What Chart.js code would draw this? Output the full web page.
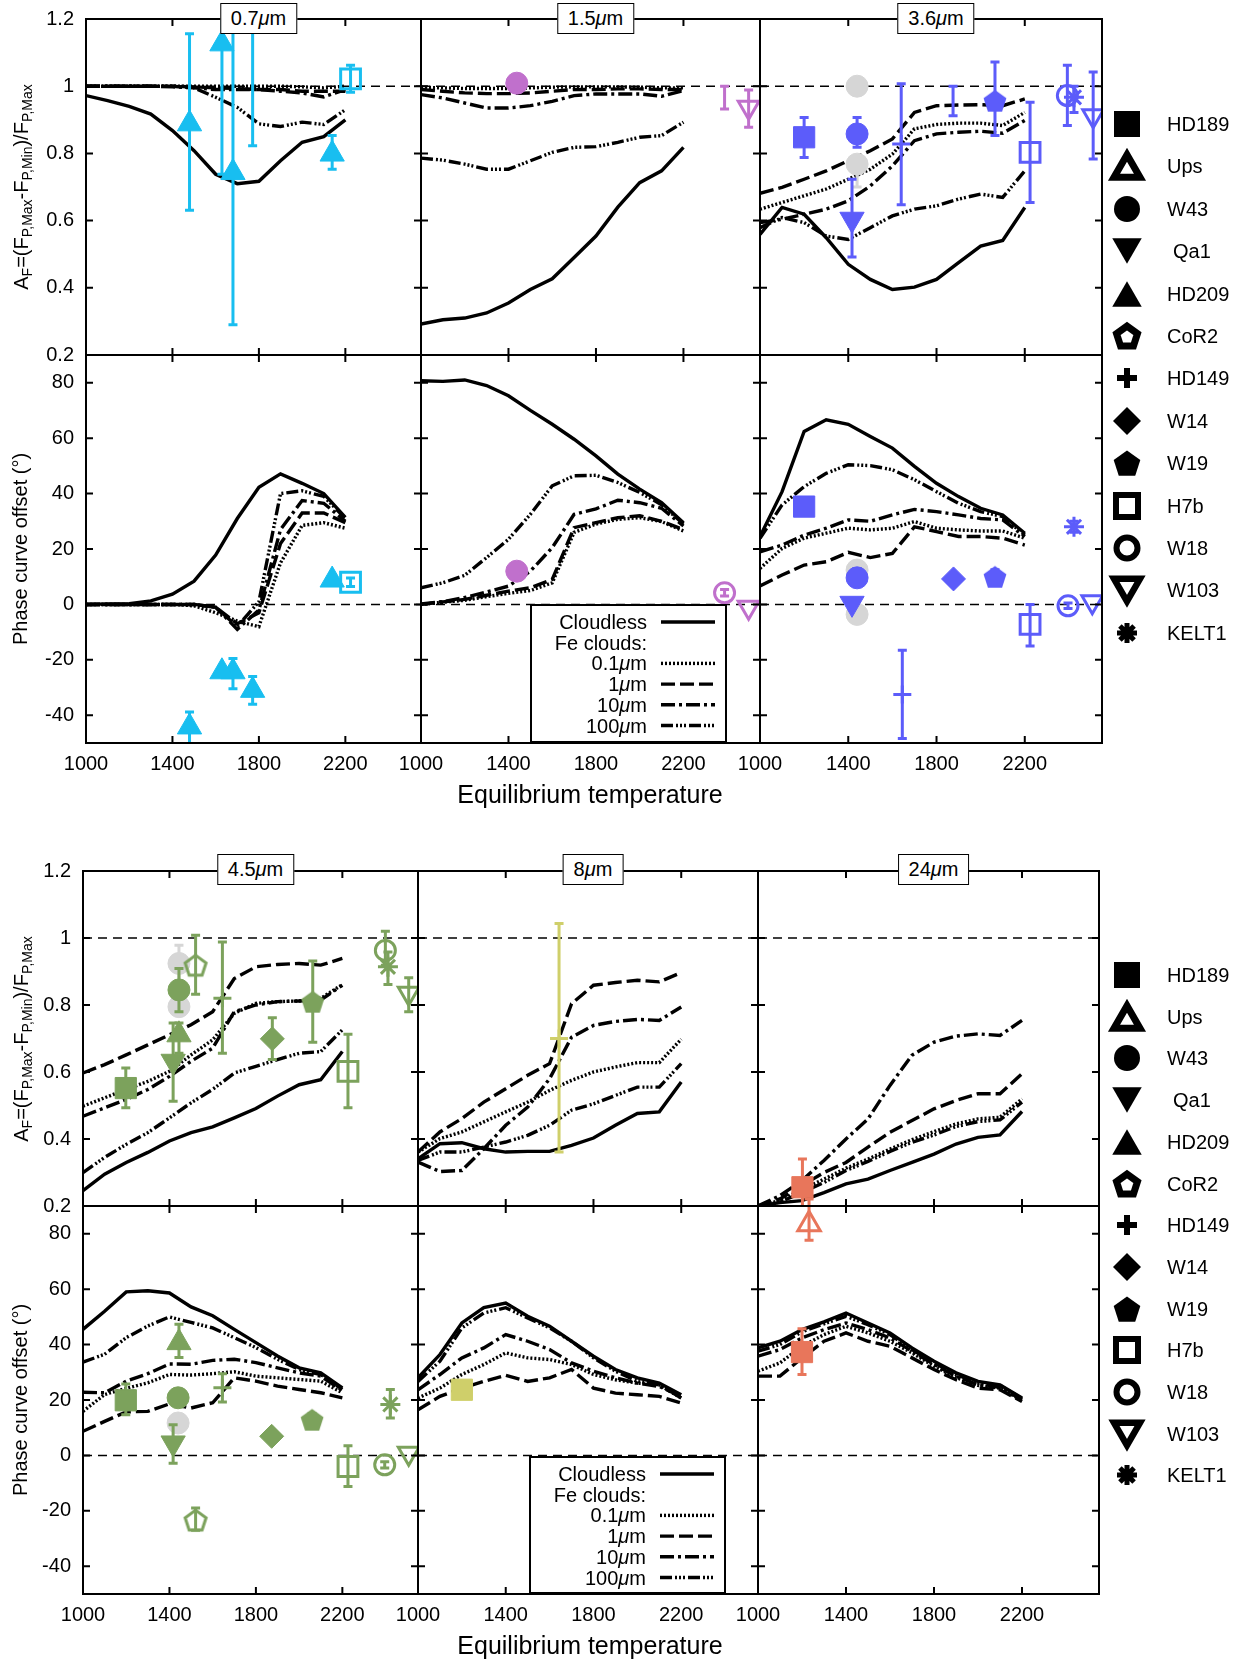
<!DOCTYPE html>
<html>
<head>
<meta charset="utf-8">
<script src="https://cdn.jsdelivr.net/npm/chart.js@4.4.1/dist/chart.umd.min.js"></script>
<style>
  body { margin: 0; background: #fff; }
  #page { position: relative; width: 1250px; height: 1662px; overflow: hidden; font-family: "Liberation Sans", Arial, sans-serif; color: #000; }
  canvas.panel { position: absolute; }
  .tbox { position: absolute; height: 31px; box-sizing: border-box; border: 1.5px solid #000; background: #fff; font-size: 20px; line-height: 28px; padding: 0 10px; transform: translateX(-50%); white-space: nowrap; z-index: 5; }
  .ytitle { position: absolute; font-size: 20px; white-space: nowrap; transform: translate(-50%, -50%) rotate(-90deg); z-index: 5; }
  .ytitle sub { font-size: 14px; vertical-align: -4px; }
  .xtitle { position: absolute; font-size: 25px; white-space: nowrap; transform: translate(-50%, -50%); z-index: 5; }
  .mbox { position: absolute; box-sizing: border-box; border: 2px solid #000; background: #fff; z-index: 5; }
  .mbox div { position: absolute; font-size: 20px; text-align: right; width: 115px; left: 0; line-height: 22px; }
  .mbox canvas { position: absolute; left: 0; top: 0; }
  .leg { position: absolute; font-size: 20px; line-height: 24px; z-index: 5; }
  .legm { position: absolute; z-index: 5; }
</style>
</head>
<body>
<div id="page"></div>
<script>
// model grid temperatures
const modelT = [1000, 1100, 1200, 1300, 1400, 1500, 1600, 1700, 1800, 1900, 2000, 2100, 2200];

// model curves: amplitude A_F and phase offset, for cloudless and Fe clouds 0.1/1/10/100 um
const cl07A   = [0.972, 0.957, 0.94, 0.917, 0.868, 0.808, 0.738, 0.71, 0.717, 0.778, 0.833, 0.85, 0.9];
const f01_07A = [1, 1, 1, 1, 1, 1, 1, 1, 1, 1, 0.998, 0.995, 1.0];
const f1_07A  = [1, 1, 1, 1, 1, 0.998, 0.995, 0.993, 0.99, 0.99, 0.985, 0.985, 0.985];
const f10_07A = [1, 1, 1, 1, 0.998, 0.995, 0.99, 0.99, 0.99, 0.985, 0.98, 0.968, 0.99];
const f100_07A = [1, 1, 1, 1, 1, 0.995, 0.967, 0.937, 0.888, 0.88, 0.893, 0.886, 0.93];

const cl07O   = [0, 0.2, 0.3, 1.3, 3.7, 8.4, 17.8, 31, 42.3, 47.1, 43.7, 40, 31.4];
const f01_07O = [0, 0, 0, 0, 0, -0.5, -3, -6, -8, 15, 28.5, 29.5, 27.5];
const f1_07O  = [0, 0, 0, 0, 0, 0, -1, -7, -3, 22, 33, 33, 29.5];
const f10_07O = [0, 0, 0, 0, 0, 0, -1, -9, -2, 27, 37.5, 36.5, 30];
const f100_07O = [0, 0, 0, 0, 0, 0, -1, -8, 1, 40, 41, 39, 31];

const cl15A   = [0.292, 0.305, 0.31, 0.325, 0.355, 0.395, 0.427, 0.49, 0.554, 0.64, 0.713, 0.748, 0.818];
const f01_15A = [0.997, 0.995, 0.993, 0.993, 0.993, 0.995, 0.997, 0.998, 0.998, 0.998, 0.997, 0.995, 0.995];
const f1_15A  = [0.99, 0.985, 0.98, 0.978, 0.978, 0.98, 0.985, 0.99, 0.99, 0.992, 0.992, 0.99, 0.99];
const f10_15A = [0.975, 0.965, 0.95, 0.935, 0.935, 0.942, 0.955, 0.972, 0.977, 0.977, 0.977, 0.97, 0.987];
const f100_15A = [0.786, 0.78, 0.768, 0.753, 0.753, 0.778, 0.803, 0.818, 0.82, 0.833, 0.848, 0.853, 0.893];

const cl15O   = [80.7, 80.5, 81, 79, 75.3, 70, 65, 59.6, 53.6, 47, 41.6, 36.7, 29.5];
const f01_15O = [0, 0.8, 1.5, 2.8, 4, 5, 7.8, 26, 29, 30.7, 31.3, 29.9, 26.5];
const f1_15O  = [0, 0.9, 1.8, 3.3, 4.8, 6, 9, 27.7, 29.5, 31.3, 32, 30, 27];
const f10_15O = [0.2, 1, 2.5, 4.5, 6.6, 12, 20.5, 32.5, 34.5, 37.6, 36.7, 34.7, 28.3];
const f100_15O = [6, 7.8, 10.5, 16.9, 23.5, 32.5, 42.8, 46.4, 46.6, 44, 40.4, 36, 29];

const cl36A   = [0.559, 0.639, 0.619, 0.549, 0.47, 0.425, 0.395, 0.402, 0.425, 0.475, 0.524, 0.541, 0.639];
const f01_36A = [0.634, 0.654, 0.674, 0.694, 0.723, 0.753, 0.798, 0.873, 0.886, 0.89, 0.89, 0.883, 0.922];
const f1_36A  = [0.681, 0.699, 0.723, 0.748, 0.778, 0.808, 0.843, 0.922, 0.942, 0.944, 0.945, 0.942, 0.962];
const f10_36A = [0.594, 0.604, 0.619, 0.634, 0.659, 0.703, 0.763, 0.838, 0.858, 0.863, 0.866, 0.86, 0.898];
const f100_36A = [0.579, 0.609, 0.594, 0.554, 0.544, 0.579, 0.614, 0.634, 0.644, 0.664, 0.679, 0.669, 0.748];

const cl36O   = [24.5, 40.7, 62.4, 66.6, 65, 60.6, 56.4, 49.8, 43.7, 38.9, 34.7, 32.3, 25.7];
const f01_36O = [13, 20.2, 23.9, 25.7, 27.5, 26.9, 27.5, 29.9, 27.5, 26.9, 26.5, 26.5, 23.9];
const f1_36O  = [6.7, 10.6, 14.2, 15.4, 18.8, 16.9, 18.4, 28, 26.3, 24.5, 24.5, 23.9, 21.4];
const f10_36O = [19, 21.4, 25, 27.5, 30.5, 30, 32.3, 34.3, 33.5, 32.3, 31, 30.5, 24.5];
const f100_36O = [23.9, 35.9, 42.5, 47.3, 50.4, 50.1, 48.6, 45, 40.7, 36.5, 33.5, 31.7, 25];

const cl45A   = [0.246, 0.295, 0.33, 0.36, 0.394, 0.419, 0.436, 0.463, 0.491, 0.528, 0.562, 0.577, 0.661];
const f01_45A = [0.498, 0.523, 0.548, 0.572, 0.602, 0.651, 0.696, 0.775, 0.805, 0.81, 0.812, 0.82, 0.861];
const f1_45A  = [0.597, 0.622, 0.651, 0.681, 0.711, 0.741, 0.78, 0.879, 0.914, 0.921, 0.924, 0.919, 0.939];
const f10_45A = [0.468, 0.493, 0.518, 0.548, 0.587, 0.632, 0.671, 0.78, 0.8, 0.81, 0.812, 0.815, 0.859];
const f100_45A = [0.3, 0.345, 0.384, 0.419, 0.463, 0.508, 0.548, 0.597, 0.617, 0.637, 0.656, 0.661, 0.726];

const cl45O   = [45.5, 52, 59, 59.4, 58.6, 53.6, 50.4, 45.5, 40.7, 35.9, 31.6, 29.8, 24.4];
const f01_45O = [15.9, 22, 24.2, 26.2, 29.2, 29, 29.5, 30.2, 28.6, 28, 27.4, 26.8, 22.6];
const f1_45O  = [8.7, 12.3, 15.7, 15.9, 18.6, 17.1, 19, 28, 26.8, 25, 23.8, 22.6, 20.8];
const f10_45O = [22.8, 22.6, 26.8, 29.5, 33, 32.9, 34.3, 34.7, 33.5, 31.6, 29.8, 28.6, 23.4];
const f100_45O = [33.7, 36.5, 42.5, 46.7, 50, 48, 46, 42.5, 38.9, 34.7, 31, 29.2, 23.8];

const cl8A    = [0.341, 0.386, 0.389, 0.371, 0.361, 0.363, 0.363, 0.381, 0.403, 0.441, 0.476, 0.481, 0.57];
const f01_8A  = [0.361, 0.401, 0.421, 0.451, 0.481, 0.51, 0.545, 0.575, 0.6, 0.615, 0.628, 0.628, 0.698];
const f1_8A   = [0.361, 0.421, 0.461, 0.51, 0.55, 0.59, 0.625, 0.804, 0.859, 0.867, 0.874, 0.869, 0.897];
const f10_8A  = [0.331, 0.303, 0.306, 0.371, 0.441, 0.495, 0.58, 0.704, 0.739, 0.751, 0.757, 0.754, 0.794];
const f100_8A = [0.336, 0.361, 0.361, 0.376, 0.391, 0.411, 0.441, 0.486, 0.505, 0.53, 0.555, 0.555, 0.625];

const cl8O    = [28, 36.4, 47.8, 53.3, 55, 50.2, 46.6, 41.2, 35.8, 31, 28, 26.1, 21.9];
const f01_8O  = [20.7, 24.3, 29.2, 32.8, 37, 35.2, 34.6, 32.8, 29.2, 27.3, 26.1, 25.5, 20.7];
const f1_8O   = [16.5, 21.3, 24.3, 26.7, 28.9, 26.7, 28, 31, 24.3, 22.5, 21.9, 21.3, 18.9];
const f10_8O  = [23.7, 29.2, 35.2, 38.8, 43.6, 41.2, 38.2, 33.4, 30.4, 28, 26.1, 24.9, 21.3];
const f100_8O = [26.7, 34, 46, 51.4, 53.3, 49.6, 46, 41.2, 35.2, 30.4, 26.7, 25.5, 20.7];

const cl24A    = [0.2, 0.21, 0.216, 0.24, 0.266, 0.28, 0.306, 0.33, 0.355, 0.385, 0.405, 0.412, 0.482];
const f01_24A  = [0.2, 0.216, 0.25, 0.28, 0.313, 0.34, 0.37, 0.398, 0.422, 0.445, 0.46, 0.465, 0.52];
const f1_24A   = [0.2, 0.221, 0.261, 0.3, 0.33, 0.376, 0.42, 0.455, 0.49, 0.515, 0.535, 0.535, 0.595];
const f10_24A  = [0.2, 0.231, 0.276, 0.336, 0.4, 0.46, 0.56, 0.65, 0.689, 0.707, 0.714, 0.709, 0.754];
const f100_24A = [0.2, 0.212, 0.24, 0.27, 0.306, 0.333, 0.363, 0.39, 0.412, 0.437, 0.452, 0.457, 0.51];

const cl24O    = [38.8, 41.2, 45.4, 48.2, 51.4, 47.8, 44.2, 38.8, 34, 29.8, 26.7, 25.5, 20.7];
const f01_24O  = [30.4, 33.4, 39.4, 43.6, 46.6, 44.2, 41.2, 37, 32.2, 28.1, 25.3, 24.3, 19.8];
const f1_24O   = [28.6, 28.6, 35.2, 41.2, 44.2, 41.2, 39.4, 35.2, 31, 27.3, 24.3, 23.7, 19.5];
const f10_24O  = [35.8, 38.2, 42.4, 45.4, 47.8, 45.4, 42.4, 37.6, 32.8, 28.6, 25.5, 24.6, 20.1];
const f100_24O = [37.6, 40, 44.6, 47.5, 50.2, 47.2, 43.6, 38.2, 33.4, 29.2, 26.1, 25.3, 20.5];

// observations: [planet, Teq, value, errLow, errHigh]
const obs07A = [
  ['HD209', 1479, 0.888, 0.631, 1.156],
  ['HD209', 1629, 1.126, 0.738, 1.3],
  ['HD209', 1680, 0.743, 0.29, 1.3],
  ['HD209', 1771, 1.19, 0.823, 1.3],
  ['HD209', 2139, 0.798, 0.753, 0.853],
  ['H7b', 2224, 1.022, 0.982, 1.062]
];
const obs07O = [
  ['HD209', 1479, -44.2, -52, -38.8],
  ['HD209', 1629, -24.3, null, null],
  ['HD209', 1680, -24.3, -30.4, -19.5],
  ['HD209', 1771, -31, -36, -26],
  ['HD209', 2139, 8.8, null, null],
  ['H7b', 2224, 8, 6.5, 9.5]
];
const obs15A = [
  ['W43', 1438, 1.009, null, null],
  ['bar', 2388, 0.967, 0.932, 1.0],
  ['W103', 2498, 0.937, 0.878, 0.989]
];
const obs15O = [
  ['W43', 1438, 12, null, null],
  ['W18', 2388, 4.2, 3, 5.4],
  ['W103', 2498, -1, null, null]
];
const obs36A = [
  ['W43g', 1440, 1.0, null, null],
  ['W43g', 1440, 0.768, 0.7, 0.77],
  ['HD189', 1200, 0.848, 0.788, 0.907],
  ['W43', 1440, 0.858, 0.818, 0.907],
  ['Qa1', 1417, 0.604, 0.492, 0.723],
  ['HD149', 1640, 0.828, 0.647, 1.007],
  ['bar', 1875, 0.957, 0.912, 1.0],
  ['W19', 2065, 0.957, 0.853, 1.072],
  ['H7b', 2224, 0.803, 0.654, 0.952],
  ['W18', 2393, 0.972, 0.883, 1.062],
  ['KELT1', 2423, 0.967, 0.922, 1.0],
  ['W103', 2510, 0.912, 0.783, 1.042]
];
const obs36O = [
  ['W43g', 1440, 12.4, null, null],
  ['W43g', 1440, -3.6, null, null],
  ['HD189', 1200, 35.3, 33.5, 37],
  ['W43', 1440, 9.6, 7, 13],
  ['Qa1', 1417, 0.4, null, null],
  ['HD149', 1645, -32.5, -48.4, -16.5],
  ['W14', 1877, 9.2, null, null],
  ['W19', 2065, 10, 8, 12.5],
  ['H7b', 2224, -7.2, -15, 0],
  ['W18', 2396, -0.5, -1.5, 0.5],
  ['KELT1', 2423, 28, 26, 30],
  ['W103', 2506, 1, null, null]
];
const obs45A = [
  ['W43g', 1444, 0.924, 0.87, 0.978],
  ['W43g', 1444, 0.795, null, null],
  ['HD189', 1198, 0.552, 0.493, 0.612],
  ['W43', 1444, 0.845, 0.78, 0.909],
  ['HD209', 1444, 0.711, 0.656, 0.746],
  ['Qa1', 1417, 0.632, 0.513, 0.746],
  ['CoR2', 1521, 0.919, 0.832, 1.008],
  ['HD149', 1645, 0.82, 0.656, 0.988],
  ['W14', 1876, 0.699, 0.637, 0.762],
  ['W19', 2063, 0.81, 0.689, 0.931],
  ['H7b', 2226, 0.602, 0.493, 0.713],
  ['W18', 2399, 0.963, 0.919, 1.02],
  ['KELT1', 2411, 0.914, 0.861, 0.958],
  ['W103', 2507, 0.835, 0.78, 0.881]
];
const obs45O = [
  ['W43g', 1440, 11.7, null, null],
  ['HD189', 1198, 19.9, 14.7, 25.8],
  ['W43', 1440, 20.8, null, null],
  ['HD209', 1444, 40.7, 35.3, 47.3],
  ['Qa1', 1417, 4.5, -2.8, 11.1],
  ['CoR2', 1521, -23.3, -27, -19],
  ['HD149', 1645, 24.4, 19.3, 29.5],
  ['W14', 1873, 6.9, null, null],
  ['W19', 2060, 12.9, 11, 15],
  ['H7b', 2226, -4, -11.2, 3.5],
  ['W18', 2396, -3.4, -4.5, -2.3],
  ['KELT1', 2422, 18.4, 13.5, 23.8],
  ['W103', 2507, 0.8, null, null]
];
const obs8A = [['HD149', 1643, 0.7, 0.361, 1.043]];
const obs8O = [['HD189', 1200, 23.7, null, null]];
const obs24A = [
  ['HD189', 1202, 0.256, 0.15, 0.34],
  ['Ups', 1232, 0.1, 0.05, 0.221]
];
const obs24O = [
  ['HD189', 1200, 37.3, 29.2, 45.7],
  ['Ups', 1232, 83.4, 77.6, 95]
];

const xTicks = [1000, 1400, 1800, 2200];
const ampTicks = [0.2, 0.4, 0.6, 0.8, 1, 1.2];
const offTicks = [-40, -20, 0, 20, 40, 60, 80];
const bands = ['0.7', '1.5', '3.6', '4.5', '8', '24'];
const legendNames = ['HD189', 'Ups', 'W43', 'Qa1', 'HD209', 'CoR2', 'HD149', 'W14', 'W19', 'H7b', 'W18', 'W103', 'KELT1'];
const modelNames = ['Cloudless', '0.1', '1', '10', '100'];

const modelsA = {
  '0.7': [cl07A, f01_07A, f1_07A, f10_07A, f100_07A],
  '1.5': [cl15A, f01_15A, f1_15A, f10_15A, f100_15A],
  '3.6': [cl36A, f01_36A, f1_36A, f10_36A, f100_36A],
  '4.5': [cl45A, f01_45A, f1_45A, f10_45A, f100_45A],
  '8': [cl8A, f01_8A, f1_8A, f10_8A, f100_8A],
  '24': [cl24A, f01_24A, f1_24A, f10_24A, f100_24A]
};
const modelsO = {
  '0.7': [cl07O, f01_07O, f1_07O, f10_07O, f100_07O],
  '1.5': [cl15O, f01_15O, f1_15O, f10_15O, f100_15O],
  '3.6': [cl36O, f01_36O, f1_36O, f10_36O, f100_36O],
  '4.5': [cl45O, f01_45O, f1_45O, f10_45O, f100_45O],
  '8': [cl8O, f01_8O, f1_8O, f10_8O, f100_8O],
  '24': [cl24O, f01_24O, f1_24O, f10_24O, f100_24O]
};
const obsA = { '0.7': obs07A, '1.5': obs15A, '3.6': obs36A, '4.5': obs45A, '8': obs8A, '24': obs24A };
const obsO = { '0.7': obs07O, '1.5': obs15O, '3.6': obs36O, '4.5': obs45O, '8': obs8O, '24': obs24O };

// styles
const FONT = '"Liberation Sans", Arial, sans-serif';
const bandColor = { '0.7': '#18BEF0', '1.5': '#C070CC', '3.6': '#5C5CFA', '4.5': '#7CA25C', '8': '#CFCF6A', '24': '#E8765B' };
const grey = '#D6D6D6';
const dashes = [[], [2, 2], [14, 5], [14, 4, 3, 4], [12, 3, 2, 2, 2, 2, 2, 3]];
const markerDefs = {
  HD189: { style: 'rect', r: 15 },
  Ups: { style: 'triangle', r: 13, open: true },
  W43: { style: 'circle', r: 11 },
  W43g: { style: 'circle', r: 11, grey: true },
  Qa1: { style: 'triangle', r: 14, rot: 180 },
  HD209: { style: 'triangle', r: 14 },
  CoR2: { style: 'pentagon', r: 11, open: true },
  HD149: { style: 'cross', r: 9 },
  W14: { style: 'rectRot', r: 12 },
  W19: { style: 'pentagon', r: 12 },
  H7b: { style: 'rect', r: 14, open: true },
  W18: { style: 'circle', r: 10, open: true },
  W103: { style: 'triangle', r: 12, rot: 180, open: true },
  KELT1: { style: 'star', r: 10 },
  bar: { style: 'circle', r: 0 }
};

function drawShape(g, shape, x, y, r, color, filled, lw) {
  g.save();
  g.fillStyle = color; g.strokeStyle = color; g.lineWidth = lw;
  g.beginPath();
  if (shape === 'square') {
    g.rect(x - r, y - r, 2 * r, 2 * r);
  } else if (shape === 'circle') {
    g.arc(x, y, r, 0, Math.PI * 2);
  } else if (shape === 'triangle' || shape === 'dtriangle' || shape === 'pentagon') {
    const n = shape === 'pentagon' ? 5 : 3;
    const start = shape === 'dtriangle' ? Math.PI / 2 : -Math.PI / 2;
    const dy = shape === 'triangle' ? r / 4 : shape === 'dtriangle' ? -r / 4 : r * 0.1;
    for (let k = 0; k < n; k++) {
      const th = start + k * 2 * Math.PI / n;
      const px = x + r * Math.cos(th), py = y + dy + r * Math.sin(th);
      if (k === 0) g.moveTo(px, py); else g.lineTo(px, py);
    }
    g.closePath();
  } else if (shape === 'diamond') {
    g.moveTo(x, y - r); g.lineTo(x + r, y); g.lineTo(x, y + r); g.lineTo(x - r, y); g.closePath();
  } else if (shape === 'plus') {
    g.rect(x - r, y - lw / 2, 2 * r, lw); g.rect(x - lw / 2, y - r, lw, 2 * r);
    g.fill(); g.restore(); return;
  } else if (shape === 'star') {
    for (let k = 0; k < 4; k++) {
      const th = k * Math.PI / 4;
      g.moveTo(x - r * Math.cos(th), y - r * Math.sin(th));
      g.lineTo(x + r * Math.cos(th), y + r * Math.sin(th));
    }
    g.stroke(); g.restore(); return;
  }
  if (filled) g.fill(); else g.stroke();
  g.restore();
}

function pentagonImage(color, r, filled) {
  const s = Math.ceil(2 * r + 8);
  const c = document.createElement('canvas');
  c.width = s; c.height = s;
  drawShape(c.getContext('2d'), 'pentagon', s / 2, s / 2, r, color, filled, 3);
  return c;
}

function obsDataset(row, color) {
  const [name, t, v, lo, hi] = row;
  const m = markerDefs[name];
  const c = m.grey ? grey : color;
  let ps = m.style;
  if (ps === 'pentagon') ps = pentagonImage(c, m.r, !m.open);
  const thick = m.open || m.style === 'cross' || m.style === 'star';
  return {
    label: name,
    data: [{ x: t, y: v }],
    showLine: false,
    order: m.grey ? 1 : 0,
    pointStyle: ps,
    pointRadius: m.r,
    pointHoverRadius: m.r,
    pointRotation: m.rot || 0,
    pointBackgroundColor: m.open ? 'rgba(0,0,0,0)' : c,
    pointBorderColor: c,
    pointBorderWidth: thick ? 3 : 1,
    errLo: lo, errHi: hi, barColor: c
  };
}

function modelDataset(vals, k) {
  return {
    label: modelNames[k],
    data: modelT.map((t, i) => ({ x: t, y: vals[i] })),
    showLine: true,
    pointRadius: 0,
    borderColor: '#000',
    borderWidth: 3.4,
    borderDash: dashes[k],
    borderCapStyle: 'butt',
    tension: 0,
    order: 2
  };
}

// dashed reference line, frame and inward ticks
const framePlugin = {
  id: 'frame',
  beforeDatasetsDraw(chart, args, opts) {
    const { ctx, chartArea: a, scales: { y } } = chart;
    const ry = y.getPixelForValue(opts.refY);
    ctx.save();
    ctx.strokeStyle = '#000'; ctx.lineWidth = 1.5; ctx.setLineDash([9, 6]);
    ctx.beginPath(); ctx.moveTo(a.left, ry); ctx.lineTo(a.right, ry); ctx.stroke();
    ctx.restore();
  },
  afterDraw(chart) {
    const { ctx, chartArea: a, scales: { x, y } } = chart;
    ctx.save();
    ctx.strokeStyle = '#000'; ctx.lineWidth = 2; ctx.setLineDash([]);
    ctx.strokeRect(a.left, a.top, a.right - a.left, a.bottom - a.top);
    ctx.beginPath();
    x.ticks.forEach(t => {
      const px = x.getPixelForValue(t.value);
      ctx.moveTo(px, a.bottom); ctx.lineTo(px, a.bottom - 7);
      ctx.moveTo(px, a.top); ctx.lineTo(px, a.top + 7);
    });
    y.ticks.forEach(t => {
      const py = y.getPixelForValue(t.value);
      ctx.moveTo(a.left, py); ctx.lineTo(a.left + 7, py);
      ctx.moveTo(a.right, py); ctx.lineTo(a.right - 7, py);
    });
    ctx.stroke();
    ctx.restore();
  }
};

// error bars, drawn just before their own marker
const errPlugin = {
  id: 'errbars',
  beforeDatasetDraw(chart, args) {
    const ds = chart.data.datasets[args.index];
    if (ds.errLo == null) return;
    const { ctx, chartArea: a, scales: { y } } = chart;
    const pt = args.meta.data[0];
    const y1 = y.getPixelForValue(ds.errLo), y2 = y.getPixelForValue(ds.errHi);
    ctx.save();
    ctx.beginPath(); ctx.rect(a.left, a.top, a.right - a.left, a.bottom - a.top); ctx.clip();
    ctx.strokeStyle = ds.barColor; ctx.lineWidth = 3; ctx.setLineDash([]);
    ctx.beginPath();
    ctx.moveTo(pt.x, y1); ctx.lineTo(pt.x, y2);
    ctx.moveTo(pt.x - 4.5, y1); ctx.lineTo(pt.x + 4.5, y1);
    ctx.moveTo(pt.x - 4.5, y2); ctx.lineTo(pt.x + 4.5, y2);
    ctx.stroke();
    ctx.restore();
  }
};

const page = document.getElementById('page');
const PAD = { l: 60, r: 30, t: 36, b: 45 };

function makePanel(p) {
  const W = p.right - p.left, H = p.bottom - p.top;
  const cv = document.createElement('canvas');
  cv.className = 'panel';
  cv.width = W + PAD.l + PAD.r;
  cv.height = H + PAD.t + PAD.b;
  cv.style.left = (p.left - PAD.l) + 'px';
  cv.style.top = (p.top - PAD.t) + 'px';
  page.appendChild(cv);

  const datasets = p.obs.map(r => obsDataset(r, p.color)).concat(p.models.map((v, k) => modelDataset(v, k)));

  new Chart(cv, {
    type: 'scatter',
    data: { datasets },
    options: {
      responsive: false,
      animation: false,
      devicePixelRatio: 1,
      events: [],
      layout: { padding: { left: 0, right: PAD.r, top: PAD.t, bottom: 0 } },
      plugins: { legend: { display: false }, tooltip: { enabled: false }, frame: { refY: p.refY } },
      scales: {
        x: {
          type: 'linear', min: 1000, max: 2550,
          afterBuildTicks: s => { s.ticks = xTicks.map(v => ({ value: v })); },
          afterFit: s => { s.height = PAD.b; },
          grid: { display: false, drawTicks: false },
          border: { display: false },
          ticks: { display: p.showX, color: '#000', font: { family: FONT, size: 20 }, padding: 9, maxRotation: 0, autoSkip: false, callback: v => String(v) }
        },
        y: {
          type: 'linear', min: p.yMin, max: p.yMax,
          afterBuildTicks: s => { s.ticks = p.yTicks.map(v => ({ value: v })); },
          afterFit: s => { s.width = PAD.l; },
          grid: { display: false, drawTicks: false },
          border: { display: false },
          ticks: { display: p.showY, color: '#000', font: { family: FONT, size: 20 }, padding: 12, autoSkip: false, callback: v => String(Math.round(v * 10) / 10) }
        }
      }
    },
    plugins: [framePlugin, errPlugin]
  });
}

function addDiv(cls, html, left, top) {
  const d = document.createElement('div');
  d.className = cls; d.innerHTML = html;
  d.style.left = left + 'px'; d.style.top = top + 'px';
  page.appendChild(d);
  return d;
}

const halves = [
  { cols: [86, 421, 760, 1102], rowA: [19, 355], rowO: [355, 743], boxTop: 3, xTitleY: 794, legTop: 124, legStep: 42.4, mbox: [530, 604, 197, 139] },
  { cols: [83, 418, 758, 1099], rowA: [871, 1206], rowO: [1206, 1594], boxTop: 854, xTitleY: 1645, legTop: 975, legStep: 41.7, mbox: [529, 1456, 197, 138] }
];

bands.forEach((band, b) => {
  const h = halves[Math.floor(b / 3)];
  const col = b % 3;
  const left = h.cols[col], right = h.cols[col + 1];
  makePanel({ left, right, top: h.rowA[0], bottom: h.rowA[1], yMin: 0.2, yMax: 1.2, yTicks: ampTicks, refY: 1,
    showY: col === 0, showX: false, color: bandColor[band], obs: obsA[band], models: modelsA[band] });
  makePanel({ left, right, top: h.rowO[0], bottom: h.rowO[1], yMin: -50, yMax: 90, yTicks: offTicks, refY: 0,
    showY: col === 0, showX: true, color: bandColor[band], obs: obsO[band], models: modelsO[band] });
  addDiv('tbox', band + '<i>μ</i>m', (left + right) / 2 + 5, h.boxTop);
});

halves.forEach(h => {
  addDiv('ytitle', 'A<sub>F</sub>=(F<sub>P,Max</sub>-F<sub>P,Min</sub>)/F<sub>P,Max</sub>', 22, (h.rowA[0] + h.rowA[1]) / 2);
  addDiv('ytitle', 'Phase curve offset (°)', 20, (h.rowO[0] + h.rowO[1]) / 2);
  addDiv('xtitle', 'Equilibrium temperature', 590, h.xTitleY);

  // model line legend box
  const [bx, by, bw, bh] = h.mbox;
  const box = addDiv('mbox', '', bx, by);
  box.style.width = bw + 'px'; box.style.height = bh + 'px';
  const lc = document.createElement('canvas');
  lc.width = bw; lc.height = bh;
  box.appendChild(lc);
  const g = lc.getContext('2d');
  const labels = ['Cloudless', 'Fe clouds:', '0.1<i>μ</i>m', '1<i>μ</i>m', '10<i>μ</i>m', '100<i>μ</i>m'];
  const lineFor = [0, -1, 1, 2, 3, 4];
  labels.forEach((t, i) => {
    const cy = 16 + i * 20.7;
    const d = document.createElement('div');
    d.innerHTML = t; d.style.top = (cy - 11) + 'px';
    box.appendChild(d);
    if (lineFor[i] >= 0) {
      g.save(); g.strokeStyle = '#000'; g.lineWidth = 3.4; g.setLineDash(dashes[lineFor[i]]);
      g.beginPath(); g.moveTo(129, cy); g.lineTo(183, cy); g.stroke(); g.restore();
    }
  });

  // planet marker legend
  const legShapes = {
    HD189: ['square', 13, true, 0], Ups: ['triangle', 15, false, 7], W43: ['circle', 13, true, 0],
    Qa1: ['dtriangle', 17, true, 0], HD209: ['triangle', 17, true, 0], CoR2: ['pentagon', 11, false, 7],
    HD149: ['plus', 10, true, 6], W14: ['diamond', 14, true, 0], W19: ['pentagon', 14, true, 0],
    H7b: ['square', 11, false, 6], W18: ['circle', 10.5, false, 6], W103: ['dtriangle', 15, false, 6.5],
    KELT1: ['star', 10, false, 5]
  };
  legendNames.forEach((name, i) => {
    const cy = h.legTop + i * h.legStep;
    const mc = document.createElement('canvas');
    mc.className = 'legm'; mc.width = 40; mc.height = 40;
    mc.style.left = (1127 - 20) + 'px'; mc.style.top = (cy - 20) + 'px';
    page.appendChild(mc);
    const [shape, r, filled, lw] = legShapes[name];
    drawShape(mc.getContext('2d'), shape, 20, 20, r, '#000', filled, lw);
    addDiv('leg', name, name === 'Qa1' ? 1173 : 1167, cy - 12);
  });
});
</script>
</body>
</html>
